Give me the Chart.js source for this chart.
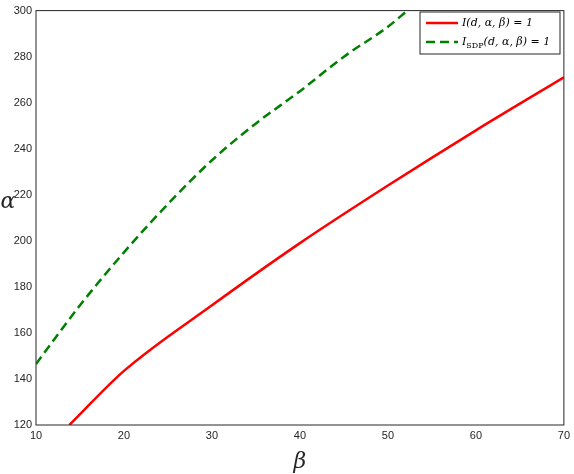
<!DOCTYPE html>
<html>
<head>
<meta charset="utf-8">
<script src="https://cdn.jsdelivr.net/npm/chart.js@4"></script>
<style>
  body { margin: 0; background: #fff; }
  #wrap { width: 574px; height: 474px; }
</style>
</head>
<body>
<div id="wrap"><canvas id="c"></canvas></div>
<script>
// values
const betaRed = [13.8, 20, 30, 40, 50, 60, 70];
const alphaRed = [120, 143.5, 172, 199, 224, 248, 271];
const betaGreen = [10, 15, 20, 25, 30, 35, 40, 45, 50, 52.2];
const alphaGreen = [146.5, 172, 195, 216, 235, 251, 265, 280, 293, 300];
const xTicks = [10, 20, 30, 40, 50, 60, 70];
const yTicks = [120, 140, 160, 180, 200, 220, 240, 260, 280, 300];

const pts = (xs, ys) => xs.map((x, i) => ({ x: x, y: ys[i] }));

// box around plot, axis letters and the legend
const decor = {
    id: 'decor',
    afterDraw(chart) {
        const { ctx, chartArea: a } = chart;
        ctx.save();
        ctx.strokeStyle = '#262626';
        ctx.lineWidth = 1;
        ctx.strokeRect(a.left, a.top, a.right - a.left, a.bottom - a.top);

        ctx.fillStyle = '#262626';
        ctx.font = 'italic 22px "DejaVu Serif", serif';
        ctx.textAlign = 'center';
        ctx.textBaseline = 'middle';
        ctx.fillText('β', (a.left + a.right) / 2, 462);
        ctx.fillText('α', 8, 202);

        // legend
        const lx = 420, ly = 12, lw = 140, lh = 42;
        ctx.fillStyle = '#fff';
        ctx.fillRect(lx, ly, lw, lh);
        ctx.strokeStyle = '#262626';
        ctx.strokeRect(lx, ly, lw, lh);
        const labels = [['I', '(d, α, β) = 1', ''], ['I', '(d, α, β) = 1', 'SDP']];
        chart.data.datasets.forEach((ds, i) => {
            const y = ly + 11 + i * 19;
            ctx.strokeStyle = ds.borderColor;
            ctx.lineWidth = 2.5;
            ctx.setLineDash(ds.borderDash || []);
            ctx.beginPath();
            ctx.moveTo(lx + 6, y);
            ctx.lineTo(lx + 38, y);
            ctx.stroke();
            ctx.setLineDash([]);
            ctx.fillStyle = '#000';
            ctx.textAlign = 'left';
            ctx.font = 'italic 11px "DejaVu Serif", serif';
            let x = lx + 42;
            ctx.fillText(labels[i][0], x, y);
            x += ctx.measureText(labels[i][0]).width;
            if (labels[i][2]) {
                ctx.font = '8px "DejaVu Serif", serif';
                ctx.fillText(labels[i][2], x, y + 4);
                x += ctx.measureText(labels[i][2]).width;
            }
            ctx.font = 'italic 11px "DejaVu Serif", serif';
            ctx.fillText(labels[i][1], x, y);
        });
        ctx.restore();
    }
};

new Chart(document.getElementById('c').getContext('2d'), {
    type: 'scatter',
    data: {
        datasets: [
            {
                data: pts(betaRed, alphaRed),
                showLine: true,
                borderColor: '#ff0000',
                borderWidth: 2.5,
                pointRadius: 0,
                cubicInterpolationMode: 'monotone'
            },
            {
                data: pts(betaGreen, alphaGreen),
                showLine: true,
                borderColor: '#008000',
                borderWidth: 2.5,
                borderDash: [9, 5],
                pointRadius: 0,
                cubicInterpolationMode: 'monotone'
            }
        ]
    },
    options: {
        responsive: true,
        maintainAspectRatio: false,
        animation: false,
        layout: { padding: { top: 7, right: 7, left: 0, bottom: 0 } },
        plugins: { legend: { display: false }, tooltip: { enabled: false } },
        scales: {
            x: {
                type: 'linear', min: 10, max: 70,
                afterBuildTicks: s => { s.ticks = xTicks.map(v => ({ value: v })); },
                afterFit: s => { s.height = 49; },
                grid: { display: false, drawTicks: false },
                border: { display: false },
                ticks: { color: '#262626', font: { family: 'Liberation Sans', size: 11 }, padding: 4, maxRotation: 0 }
            },
            y: {
                type: 'linear', min: 120, max: 300,
                afterBuildTicks: s => { s.ticks = yTicks.map(v => ({ value: v })); },
                afterFit: s => { s.width = 36; },
                grid: { display: false, drawTicks: false },
                border: { display: false },
                ticks: { color: '#262626', font: { family: 'Liberation Sans', size: 11 }, padding: 4 }
            }
        }
    },
    plugins: [decor]
});
</script>
</body>
</html>
